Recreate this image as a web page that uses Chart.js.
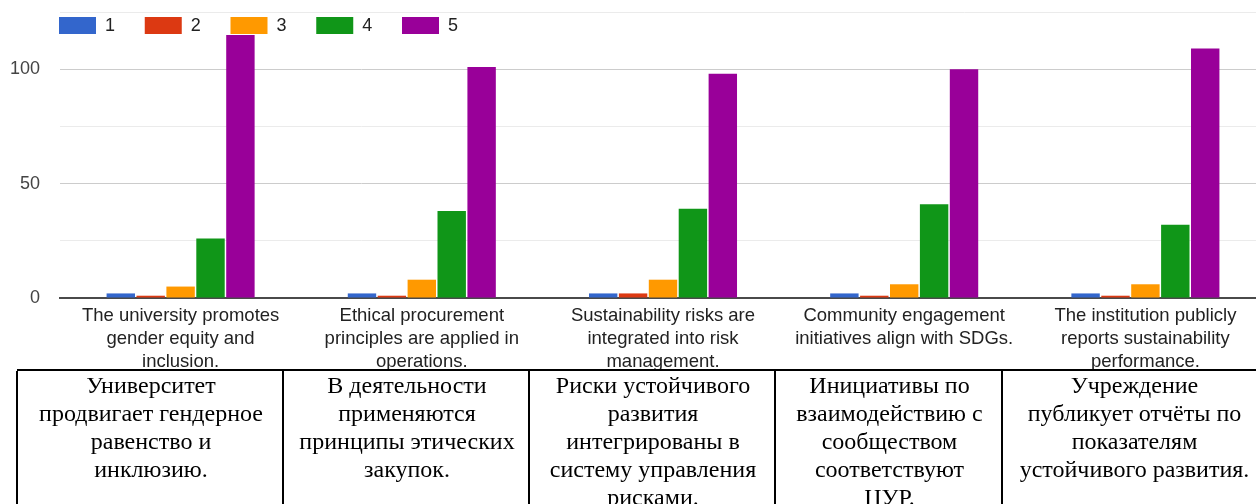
<!DOCTYPE html>
<html>
<head>
<meta charset="utf-8">
<script src="https://cdn.jsdelivr.net/npm/chart.js@4"></script>
<style>
  html, body { margin: 0; padding: 0; background: #fff; }
  body { width: 1256px; height: 504px; overflow: hidden; position: relative; }
  #wrap { position: absolute; left: 0; top: 0; width: 1266px; height: 380px; }
  #ru { position: absolute; left: 17px; top: 369px; width: 1300px; height: 140px;
        background: #fff; border-top: 2px solid #000; }
  .cell { position: absolute; top: 0; height: 140px; border-left: 2px solid #000;
          text-align: center; font-family: "Liberation Serif", "Times New Roman", serif;
          font-size: 24px; line-height: 28px; color: #000; white-space: nowrap; padding-top: 0; }
</style>
</head>
<body>
<div id="wrap"><canvas id="c"></canvas></div>
<div id="ru"></div>
<script>
const categories = [
  ["The university promotes", "gender equity and", "inclusion."],
  ["Ethical procurement", "principles are applied in", "operations."],
  ["Sustainability risks are", "integrated into risk", "management."],
  ["Community engagement", "initiatives align with SDGs."],
  ["The institution publicly", "reports sustainability", "performance."]
];
const seriesLabels = ["1", "2", "3", "4", "5"];
const seriesColors = ["#3366cc", "#dc3912", "#ff9900", "#109618", "#990099"];
const s1 = [2, 2, 2, 2, 2];
const s2 = [1, 1, 2, 1, 1];
const s3 = [5, 8, 8, 6, 6];
const s4 = [26, 38, 39, 41, 32];
const s5 = [115, 101, 98, 100, 109];
const yTicksShown = [0, 50, 100];
const translations = [
  ["Университет", "продвигает гендерное", "равенство и", "инклюзию."],
  ["В деятельности", "применяются", "принципы этических", "закупок."],
  ["Риски устойчивого", "развития", "интегрированы в", "систему управления", "рисками."],
  ["Инициативы по", "взаимодействию с", "сообществом", "соответствуют", "ЦУР."],
  ["Учреждение", "публикует отчёты по", "показателям", "устойчивого развития."]
];

// translation table (cell edges relative to table left)
const cellEdges = [0, 266, 512, 758, 985, 1248];
const ru = document.getElementById('ru');
translations.forEach((lines, i) => {
  const d = document.createElement('div');
  d.className = 'cell';
  d.style.left = (cellEdges[i] - 1) + 'px';
  d.style.width = (cellEdges[i + 1] - cellEdges[i]) + 'px';
  lines.forEach((t, k) => {
    if (k) d.appendChild(document.createElement('br'));
    d.appendChild(document.createTextNode(t));
  });
  ru.appendChild(d);
});

const allSeries = [s1, s2, s3, s4, s5];
const datasets = allSeries.map((vals, i) => ({
  label: seriesLabels[i],
  data: vals,
  backgroundColor: seriesColors[i],
  borderWidth: 0,
  categoryPercentage: 0.62,
  barPercentage: 0.95
}));

const topLegend = {
  id: 'topLegend',
  afterDatasetsDraw(chart) {
    const ctx = chart.ctx;
    ctx.save();
    ctx.font = '18px "Liberation Sans", Arial, sans-serif';
    ctx.textBaseline = 'middle';
    ctx.textAlign = 'left';
    chart.data.datasets.forEach((ds, i) => {
      const x = 59 + i * 85.75;
      ctx.fillStyle = ds.backgroundColor;
      ctx.fillRect(x, 17, 37, 17);
      ctx.fillStyle = '#222222';
      ctx.fillText(ds.label, x + 46, 26.5);
    });
    ctx.restore();
  }
};

new Chart(document.getElementById('c'), {
  type: 'bar',
  data: { labels: categories, datasets },
  plugins: [topLegend],
  options: {
    responsive: true,
    maintainAspectRatio: false,
    animation: false,
    layout: { padding: { top: 12, left: 0, right: 0, bottom: 0 } },
    plugins: { legend: { display: false }, tooltip: { enabled: false } },
    scales: {
      x: {
        grid: { display: false, drawTicks: false },
        border: { display: true, color: '#4a4a4a', width: 2 },
        ticks: {
          color: '#222222',
          font: { family: '"Liberation Sans", Arial, sans-serif', size: 18.5, lineHeight: '23px' },
          padding: 6, maxRotation: 0, minRotation: 0, autoSkip: false
        },
        afterFit(scale) {
          scale.height = 82;
          scale.paddingLeft = 0; scale.paddingRight = 0;
          scale.paddingTop = 0; scale.paddingBottom = 0;
        }
      },
      y: {
        min: 0, max: 125,
        grid: {
          drawTicks: false,
          color(ctx) {
            const v = ctx.tick.value;
            if (v === 0) return 'rgba(0,0,0,0)';
            return yTicksShown.includes(v) ? '#cccccc' : '#ebebeb';
          }
        },
        border: { display: false },
        ticks: {
          stepSize: 25,
          color: '#444444',
          font: { family: '"Liberation Sans", Arial, sans-serif', size: 18 },
          padding: 20,
          autoSkip: false,
          callback(v) { return yTicksShown.includes(v) ? String(v) : ''; }
        },
        afterFit(scale) {
          scale.width = 60;
          scale.paddingTop = 0; scale.paddingBottom = 0;
          scale.paddingLeft = 0; scale.paddingRight = 0;
        }
      }
    }
  }
});
</script>
</body>
</html>
